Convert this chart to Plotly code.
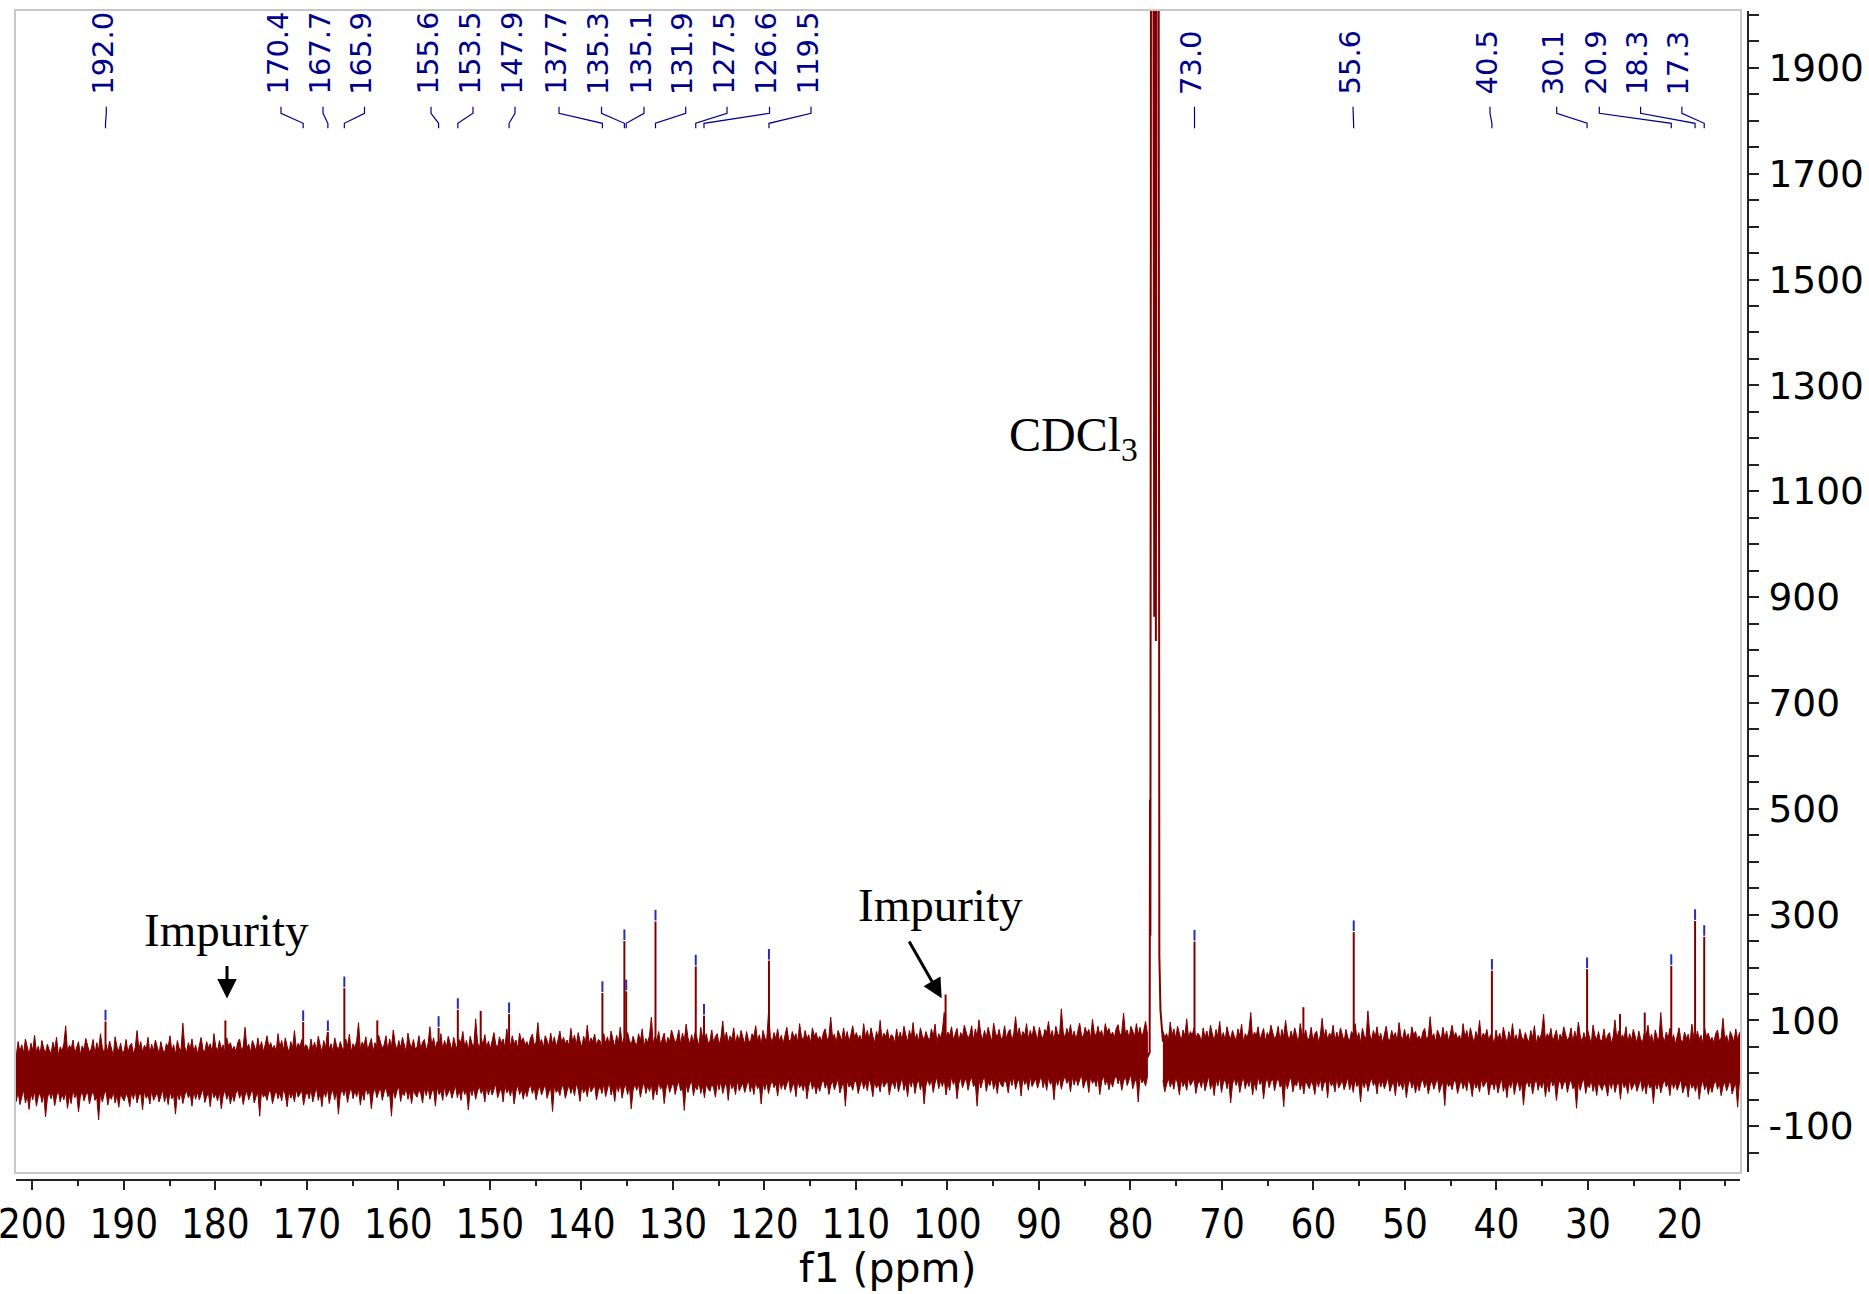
import plotly.graph_objects as go

# ---------------- data ----------------
peak_ppm = [192.0, 170.4, 167.7, 165.9, 155.6, 153.5, 147.9, 137.7, 135.3, 135.1,
            131.9, 127.5, 126.6, 119.5, 73.0, 55.6, 40.5, 30.1, 20.9, 18.3, 17.3]
peak_height = [98, 97, 78, 161, 86, 120, 112, 152, 250, 155,
               287, 202, 109, 213, 249, 267, 194, 197, 203, 288, 258]
peak_labels = ["192.0", "170.4", "167.7", "165.9", "155.6", "153.5", "147.9", "137.7", "135.3", "135.1",
               "131.9", "127.5", "126.6", "119.5", "73.0", "55.6", "40.5", "30.1", "20.9", "18.3", "17.3"]

impurity_ppm = [178.9, 100.2]
impurity_height = [100, 149]

minor_ppm = [162.3, 151.0, 61.1, 26.5, 23.8]
minor_height = [100, 118, 125, 112, 115]

cdcl3_ppm = [78.15, 77.90, 77.86, 77.82, 77.72, 77.55, 77.40, 77.30, 77.22, 77.12, 76.95, 76.84, 76.72, 76.58, 76.45]
cdcl3_val = [30, 40, 517, 260, 3000, 3000, 863, 3000, 817, 3000, 3000, 222, 120, 78, 60]

# noise band: upper / lower envelope, sampled every 0.2 ppm
band_step = 0.2
left_start = 201.95
right_start = 76.45
left_hi = [
    46, 33, 60, 41, 54, 38, 65, 49, 35, 57, 43, 72, 40, 51, 36, 62, 47, 39, 55, 44,
    37, 59, 45, 68, 34, 50, 42, 56, 90, 40, 53, 46, 63, 38, 48, 60, 35, 52, 44, 66,
    52, 40, 47, 64, 36, 58, 43, 75, 49, 37, 55, 41, 61, 46, 33, 69, 50, 42, 57, 39,
    43, 64, 39, 52, 57, 36, 49, 81, 45, 60, 40, 53, 46, 68, 38, 55, 42, 63, 49, 37,
    60, 45, 38, 56, 50, 71, 42, 54, 35, 62, 48, 43, 95, 51, 39, 58, 46, 65, 41, 53,
    37, 53, 68, 45, 41, 60, 48, 56, 39, 75, 50, 43, 62, 46, 54, 38, 67, 51, 58, 44,
    51, 41, 58, 65, 44, 50, 87, 48, 55, 39, 62, 53, 42, 67, 46, 60, 41, 54, 71, 49,
    58, 46, 53, 41, 75, 49, 62, 44, 67, 51, 39, 60, 48, 81, 45, 57, 50, 64, 43, 54,
    51, 38, 65, 46, 59, 43, 70, 54, 40, 62, 48, 77, 45, 56, 41, 67, 52, 44, 60, 49,
    43, 65, 51, 74, 40, 56, 48, 62, 96, 46, 59, 52, 69, 44, 54, 66, 41, 58, 50, 72,
    59, 47, 54, 71, 43, 65, 50, 82, 56, 44, 62, 48, 68, 53, 40, 76, 57, 49, 64, 46,
    50, 71, 46, 59, 64, 43, 56, 88, 52, 67, 47, 60, 53, 75, 45, 62, 49, 70, 56, 44,
    68, 53, 46, 64, 58, 79, 50, 62, 43, 70, 56, 51, 103, 59, 47, 66, 54, 73, 49, 61,
    46, 62, 77, 54, 50, 69, 57, 65, 48, 84, 59, 52, 71, 55, 63, 47, 76, 60, 67, 53,
    60, 50, 67, 74, 53, 59, 96, 57, 64, 48, 71, 62, 51, 76, 55, 69, 50, 63, 80, 58,
    68, 56, 63, 51, 85, 59, 72, 54, 77, 61, 49, 70, 58, 91, 55, 67, 60, 74, 53, 64,
    61, 48, 75, 56, 69, 53, 80, 64, 50, 72, 58, 87, 55, 66, 51, 77, 62, 54, 70, 59,
    53, 75, 61, 84, 50, 66, 58, 72, 106, 56, 69, 62, 79, 54, 64, 76, 51, 68, 60, 82,
    70, 58, 65, 82, 54, 76, 61, 93, 67, 55, 73, 59, 79, 64, 51, 87, 68, 60, 75, 57,
    61, 82, 57, 70, 75, 54, 67, 99, 63, 78, 58, 71, 64, 86, 56, 73, 60, 81, 67, 55,
    79, 64, 57, 75, 69, 90, 61, 73, 54, 81, 67, 62, 114, 70, 58, 77, 65, 84, 60, 72,
    56, 72, 87, 64, 60, 79, 67, 75, 58, 94, 69, 62, 81, 65, 73, 57, 86, 70, 77, 63,
    70, 60, 77, 84, 63, 69, 106, 67, 74, 58, 81, 72, 61, 86, 65, 79, 60, 73, 90, 68,
    77, 65, 72, 60, 94, 68, 81, 63, 86, 70, 58, 79, 67, 100, 64, 76, 69, 83, 62, 73,
    70, 57, 84, 65, 78, 62, 89, 73, 59, 81, 67, 96, 64, 75, 60, 86, 71, 63, 79, 68,
    62, 84, 70, 93, 59, 75, 67, 81, 115, 65, 78, 71, 88, 63, 73, 85, 60, 77, 69, 91,
    78, 66, 73, 90, 62, 84, 69, 101, 75, 63, 81, 67, 87, 72, 59, 95, 76, 68, 83, 65,
    69, 90, 65, 78, 83, 62, 75, 107, 71, 86, 66, 79, 72, 94, 64, 81, 68, 89, 75, 63,
    87, 72, 65, 83, 77, 98, 69, 81, 62, 89, 75, 70, 122, 78, 66, 85, 73, 92, 68, 80,
    64, 80, 95, 72, 68, 87, 75, 83, 66, 102, 77, 70, 89, 73, 81, 65, 94, 78, 85, 71,
    78, 68, 85, 92, 71, 77, 114, 75, 82, 66, 89, 80, 69, 94, 73, 87, 68, 81, 98, 76,
]
left_lo = [
    -40, -53, -34, -59, -45, -31, -56, -42, -68, -37, -50, -33, -62, -44, -36, -55, -39, -82, -47, -35,
    -48, -36, -61, -43, -32, -54, -39, -50, -35, -66, -42, -57, -31, -46, -38, -73, -44, -33, -52, -41,
    -35, -58, -42, -33, -51, -45, -88, -37, -54, -40, -32, -60, -43, -49, -34, -56, -41, -64, -38, -47,
    -52, -38, -45, -63, -35, -49, -32, -56, -42, -37, -69, -33, -47, -40, -58, -31, -51, -44, -36, -54,
    -43, -31, -54, -39, -59, -34, -48, -41, -77, -37, -50, -35, -57, -42, -32, -46, -38, -62, -33, -49,
    -35, -50, -41, -29, -55, -44, -37, -63, -32, -46, -39, -52, -34, -67, -43, -31, -49, -38, -58, -40,
    -53, -38, -31, -47, -35, -59, -42, -33, -50, -40, -29, -56, -44, -36, -81, -32, -45, -39, -51, -34,
    -35, -57, -43, -31, -48, -36, -52, -29, -41, -63, -33, -47, -38, -54, -30, -45, -39, -32, -60, -42,
    -35, -48, -29, -54, -40, -26, -51, -37, -63, -32, -45, -28, -57, -39, -31, -50, -34, -77, -42, -30,
    -42, -30, -55, -37, -26, -48, -33, -44, -29, -60, -36, -51, -25, -40, -32, -67, -38, -27, -46, -35,
    -28, -51, -35, -26, -44, -38, -81, -30, -47, -33, -25, -53, -36, -42, -27, -49, -34, -57, -31, -40,
    -45, -31, -38, -56, -28, -42, -25, -49, -35, -30, -62, -26, -40, -33, -51, -24, -44, -37, -29, -47,
    -35, -23, -46, -31, -51, -26, -40, -33, -69, -29, -42, -27, -49, -34, -24, -38, -30, -54, -25, -41,
    -26, -41, -32, -20, -46, -35, -28, -54, -23, -37, -30, -43, -25, -58, -34, -22, -40, -29, -49, -31,
    -44, -29, -22, -38, -26, -50, -33, -24, -41, -31, -20, -47, -35, -27, -72, -23, -36, -30, -42, -25,
    -25, -47, -33, -21, -38, -26, -42, -19, -31, -53, -23, -37, -28, -44, -20, -35, -29, -22, -50, -32,
    -25, -38, -19, -44, -30, -16, -41, -27, -53, -22, -35, -18, -47, -29, -21, -40, -24, -67, -32, -20,
    -32, -20, -45, -27, -16, -38, -23, -34, -19, -50, -26, -41, -15, -30, -22, -57, -28, -17, -36, -25,
    -17, -40, -24, -15, -33, -27, -70, -19, -36, -22, -14, -42, -25, -31, -16, -38, -23, -46, -20, -29,
    -34, -20, -27, -45, -17, -31, -14, -38, -24, -19, -51, -15, -29, -22, -40, -13, -33, -26, -18, -36,
    -24, -12, -35, -20, -40, -15, -29, -22, -58, -18, -31, -16, -38, -23, -13, -27, -19, -43, -14, -30,
    -16, -31, -22, -10, -36, -25, -18, -44, -13, -27, -20, -33, -15, -48, -24, -12, -30, -19, -39, -21,
    -34, -19, -12, -28, -16, -40, -23, -14, -31, -21, -10, -37, -25, -17, -62, -13, -26, -20, -32, -15,
    -16, -38, -24, -12, -29, -17, -33, -10, -22, -44, -14, -28, -19, -35, -11, -26, -20, -13, -41, -23,
    -16, -29, -10, -35, -21, -7, -32, -18, -44, -13, -26, -9, -38, -20, -12, -31, -15, -58, -23, -11,
    -23, -11, -36, -18, -7, -29, -14, -25, -10, -41, -17, -32, -6, -21, -13, -48, -19, -8, -27, -16,
    -9, -32, -16, -7, -25, -19, -62, -11, -28, -14, -6, -34, -17, -23, -8, -30, -15, -38, -12, -21,
    -26, -12, -19, -37, -9, -23, -6, -30, -16, -11, -43, -7, -21, -14, -32, -5, -25, -18, -10, -28,
    -16, -4, -27, -12, -32, -7, -21, -14, -50, -10, -23, -8, -30, -15, -5, -19, -11, -35, -6, -22,
    -8, -23, -14, -2, -28, -17, -10, -36, -5, -19, -12, -25, -7, -40, -16, -4, -22, -11, -31, -13,
    -26, -11, -4, -20, -8, -32, -15, -6, -23, -13, -2, -29, -17, -9, -54, -5, -18, -12, -24, -7,
]
right_hi = [
    80, 68, 75, 63, 97, 71, 84, 66, 89, 73, 61, 82, 70, 103, 67, 79, 72, 86, 65, 76,
    72, 59, 86, 67, 80, 64, 91, 75, 61, 83, 69, 98, 66, 77, 62, 88, 73, 65, 81, 70,
    62, 84, 70, 93, 59, 75, 67, 81, 115, 65, 78, 71, 88, 63, 73, 85, 60, 77, 69, 91,
    77, 65, 72, 89, 61, 83, 68, 100, 74, 62, 80, 66, 86, 71, 58, 94, 75, 67, 82, 64,
    66, 87, 62, 75, 80, 59, 72, 104, 68, 83, 63, 76, 69, 91, 61, 78, 65, 86, 72, 60,
    83, 68, 61, 79, 73, 94, 65, 77, 58, 85, 71, 66, 118, 74, 62, 81, 69, 88, 64, 76,
    58, 74, 89, 66, 62, 81, 69, 77, 60, 96, 71, 64, 83, 67, 75, 59, 88, 72, 79, 65,
    71, 61, 78, 85, 64, 70, 107, 68, 75, 59, 82, 73, 62, 87, 66, 80, 61, 74, 91, 69,
    77, 65, 72, 60, 94, 68, 81, 63, 86, 70, 58, 79, 67, 100, 64, 76, 69, 83, 62, 73,
    68, 55, 82, 63, 76, 60, 87, 71, 57, 79, 65, 94, 62, 73, 58, 84, 69, 61, 77, 66,
    59, 81, 67, 90, 56, 72, 64, 78, 112, 62, 75, 68, 85, 60, 70, 82, 57, 74, 66, 88,
    74, 62, 69, 86, 58, 80, 65, 97, 71, 59, 77, 63, 83, 68, 55, 91, 72, 64, 79, 61,
    63, 84, 59, 72, 77, 56, 69, 101, 65, 80, 60, 73, 66, 88, 58, 75, 62, 83, 69, 57,
    80, 65, 58, 76, 70, 91, 62, 74, 55, 82, 68, 63, 115, 71, 59, 78, 66, 85, 61, 73,
    55, 71, 86, 63, 59, 78, 66, 74, 57, 93, 68, 61, 80, 64, 72, 56, 85, 69, 76, 62,
    68, 58, 75, 82, 61, 67, 104, 65, 72, 56, 79, 70, 59, 84, 63, 77, 58, 71, 88, 66,
]
right_lo = [
    -13, -35, -21, -9, -26, -14, -30, -7, -19, -41, -11, -25, -16, -32, -8, -23, -17, -10, -38, -20,
    -14, -27, -8, -33, -19, -5, -30, -16, -42, -11, -24, -7, -36, -18, -10, -29, -13, -56, -21, -9,
    -23, -11, -36, -18, -7, -29, -14, -25, -10, -41, -17, -32, -6, -21, -13, -48, -19, -8, -27, -16,
    -10, -33, -17, -8, -26, -20, -63, -12, -29, -15, -7, -35, -18, -24, -9, -31, -16, -39, -13, -22,
    -29, -15, -22, -40, -12, -26, -9, -33, -19, -14, -46, -10, -24, -17, -35, -8, -28, -21, -13, -31,
    -20, -8, -31, -16, -36, -11, -25, -18, -54, -14, -27, -12, -34, -19, -9, -23, -15, -39, -10, -26,
    -14, -29, -20, -8, -34, -23, -16, -42, -11, -25, -18, -31, -13, -46, -22, -10, -28, -17, -37, -19,
    -33, -18, -11, -27, -15, -39, -22, -13, -30, -20, -9, -36, -24, -16, -61, -12, -25, -19, -31, -14,
    -16, -38, -24, -12, -29, -17, -33, -10, -22, -44, -14, -28, -19, -35, -11, -26, -20, -13, -41, -23,
    -18, -31, -12, -37, -23, -9, -34, -20, -46, -15, -28, -11, -40, -22, -14, -33, -17, -60, -25, -13,
    -26, -14, -39, -21, -10, -32, -17, -28, -13, -44, -20, -35, -9, -24, -16, -51, -22, -11, -30, -19,
    -13, -36, -20, -11, -29, -23, -66, -15, -32, -18, -10, -38, -21, -27, -12, -34, -19, -42, -16, -25,
    -32, -18, -25, -43, -15, -29, -12, -36, -22, -17, -49, -13, -27, -20, -38, -11, -31, -24, -16, -34,
    -23, -11, -34, -19, -39, -14, -28, -21, -57, -17, -30, -15, -37, -22, -12, -26, -18, -42, -13, -29,
    -17, -32, -23, -11, -37, -26, -19, -45, -14, -28, -21, -34, -16, -49, -25, -13, -31, -20, -40, -22,
    -36, -21, -14, -30, -18, -42, -25, -16, -33, -23, -12, -39, -27, -19, -64, -15, -28, -22, -34, -17,
]

x_tickvals = [200, 190, 180, 170, 160, 150, 140, 130, 120, 110, 100, 90, 80, 70, 60, 50, 40, 30, 20]
x_ticktext = ["200", "190", "180", "170", "160", "150", "140", "130", "120", "110", "100",
              "90", "80", "70", "60", "50", "40", "30", "20"]
y_tickvals = [-100, 100, 300, 500, 700, 900, 1100, 1300, 1500, 1700, 1900]
y_ticktext = ["-100", "100", "300", "500", "700", "900", "1100", "1300", "1500", "1700", "1900"]

# ---------------- layout geometry (pixels) ----------------
W, H = 1869, 1294
PL, PR, PT, PB = 16, 1748, 11, 1180          # paper area (axes lines)
FX0, FX1, FY0, FY1 = 16, 1740, 11, 1172       # framed plot area
X_RANGE = [201.78, 13.39]
Y_RANGE = [-186.4, 2007.5]
RED = "#800000"

label_slot_px = [106.3, 281, 323, 364.5, 431, 473, 515, 559, 601.5, 644, 685.7, 727,
                 769.5, 811, 1194.5, 1353, 1490, 1556.7, 1599.3, 1640.6, 1681.9]


def px2ppm(px):
    return X_RANGE[0] + (px - FX0) / (FX1 - FX0) * (X_RANGE[1] - X_RANGE[0])


def py2val(py):
    return Y_RANGE[1] - (py - FY0) / (FY1 - FY0) * (Y_RANGE[1] - Y_RANGE[0])


def paperx(px):
    return (px - PL) / (PR - PL)


def papery(py):
    return (PB - py) / (PB - PT)


# ---------------- noise band polygons ----------------
def band(start, hi, lo):
    xs = [round(start - band_step * i, 3) for i in range(len(hi))]
    return xs + xs[::-1], list(hi) + list(lo)[::-1]


bx1, by1 = band(left_start, left_hi, left_lo)
bx2, by2 = band(right_start, right_hi, right_lo)

fig = go.Figure()
fig.add_trace(go.Scatter(x=bx1 + [None] + bx2, y=by1 + [None] + by2, mode="lines",
                         fill="toself", fillcolor=RED, line=dict(color=RED, width=1),
                         hoverinfo="skip", showlegend=False))

# solvent multiplet
fig.add_trace(go.Scatter(x=cdcl3_ppm, y=cdcl3_val, mode="lines", line=dict(color=RED, width=2),
                         hoverinfo="skip", showlegend=False))

# peaks (labelled, impurity, minor) as spectral lines rising out of the band
px_, py_ = [], []
for p, h in zip(peak_ppm + impurity_ppm + minor_ppm, peak_height + impurity_height + minor_height):
    px_ += [p, p, None]
    py_ += [0, h, None]
fig.add_trace(go.Scatter(x=px_, y=py_, mode="lines", line=dict(color=RED, width=2),
                         hoverinfo="skip", showlegend=False))

# blue peak markers
mx, my = [], []
for p, h in zip(peak_ppm, peak_height):
    mx += [p, p, None]
    my += [h + 2, h + 22, None]
fig.add_trace(go.Scatter(x=mx, y=my, mode="lines", line=dict(color="#2b2bb4", width=2),
                         hoverinfo="skip", showlegend=False))

# label connectors
cx, cy = [], []
for p, s in zip(peak_ppm, label_slot_px):
    lp = px2ppm(s)
    cx += [lp, lp, p, p, None]
    cy += [py2val(106.7), py2val(113.3), py2val(123.3), py2val(128.3), None]
fig.add_trace(go.Scatter(x=cx, y=cy, mode="lines", line=dict(color="#00008b", width=1.2),
                         hoverinfo="skip", showlegend=False))

# dummy trace for the tick axes
fig.add_trace(go.Scatter(x=[None], y=[None], xaxis="x2", yaxis="y2", mode="lines",
                         hoverinfo="skip", showlegend=False))

annotations = []
for s, t in zip(label_slot_px, peak_labels):
    annotations.append(dict(x=px2ppm(s), y=py2val(96), xref="x", yref="y", text=t,
                            textangle=-90, showarrow=False, xanchor="center", yanchor="bottom",
                            xshift=-4,
                            font=dict(family="DejaVu Sans", size=29, color="#00008b"),
                            borderpad=0))

serif = "Liberation Serif, Times New Roman, serif"
annotations += [
    dict(x=paperx(226.5), y=papery(930), xref="paper", yref="paper", text="Impurity",
         xanchor="center", yanchor="middle",
         showarrow=False, font=dict(family=serif, size=47, color="black")),
    dict(x=paperx(940.5), y=papery(905), xref="paper", yref="paper", text="Impurity",
         xanchor="center", yanchor="middle",
         showarrow=False, font=dict(family=serif, size=47, color="black")),
    dict(x=paperx(1073), y=papery(438), xref="paper", yref="paper", text="CDCl<sub>3</sub>",
         xanchor="center", yanchor="middle",
         showarrow=False, font=dict(family=serif, size=48, color="black")),
    dict(x=paperx(227), y=papery(998.5), xref="paper", yref="paper", text="",
         showarrow=True, ax=0, ay=-34, arrowhead=2, arrowsize=1.3, arrowwidth=3, arrowcolor="black"),
    dict(x=paperx(941.7), y=papery(998.3), xref="paper", yref="paper", text="",
         showarrow=True, ax=-33.4, ay=-58.3, arrowhead=2, arrowsize=1.3, arrowwidth=3, arrowcolor="black"),
    dict(x=paperx(888), y=papery(1294), xref="paper", yref="paper", text="f1 (ppm)",
         showarrow=False, xanchor="center", yanchor="bottom",
         font=dict(family="DejaVu Sans", size=41, color="black")),
]

xdom = [0, (FX1 - PL) / (PR - PL)]
ydom = [(PB - FY1) / (PB - PT), 1]

fig.update_layout(
    width=W, height=H, autosize=False,
    margin=dict(l=PL, r=W - PR, t=PT, b=H - PB, pad=0, autoexpand=False),
    paper_bgcolor="white", plot_bgcolor="white", showlegend=False,
    xaxis=dict(domain=xdom, range=X_RANGE, showline=True, mirror=True, linecolor="#c8c8c8",
               linewidth=1.5, showgrid=False, zeroline=False, showticklabels=False, ticks="",
               automargin=False),
    yaxis=dict(domain=ydom, range=Y_RANGE, showline=True, mirror=True, linecolor="#c8c8c8",
               linewidth=1.5, showgrid=False, zeroline=False, showticklabels=False, ticks="",
               automargin=False),
    xaxis2=dict(domain=xdom, range=X_RANGE, overlaying="x", anchor="free", position=0,
                showline=True, linecolor="#222222", linewidth=2, showgrid=False, zeroline=False,
                tickmode="array", tickvals=x_tickvals, ticktext=x_ticktext,
                ticks="outside", ticklen=9, tickwidth=1.5, tickcolor="#222222",
                ticklabeloverflow="allow", automargin=False,
                minor=dict(dtick=5, tick0=0, ticks="outside", ticklen=4.5, tickwidth=1.5, tickcolor="#222222"),
                tickfont=dict(family="DejaVu Sans Condensed, Liberation Sans Narrow, DejaVu Sans", size=40, color="black")),
    yaxis2=dict(domain=ydom, range=Y_RANGE, overlaying="y", anchor="free", position=1, side="right",
                showline=True, linecolor="#222222", linewidth=2, showgrid=False, zeroline=False,
                tickmode="array", tickvals=y_tickvals, ticktext=y_ticktext,
                ticks="outside", ticklen=10, tickwidth=1.5, tickcolor="#222222",
                ticklabelstandoff=2, ticklabeloverflow="allow", automargin=False,
                minor=dict(dtick=50, tick0=-100, ticks="outside", ticklen=10, tickwidth=1.5, tickcolor="#222222"),
                tickfont=dict(family="DejaVu Sans", size=37.5, color="black")),
    annotations=annotations,
)

fig.write_html("out.html")
